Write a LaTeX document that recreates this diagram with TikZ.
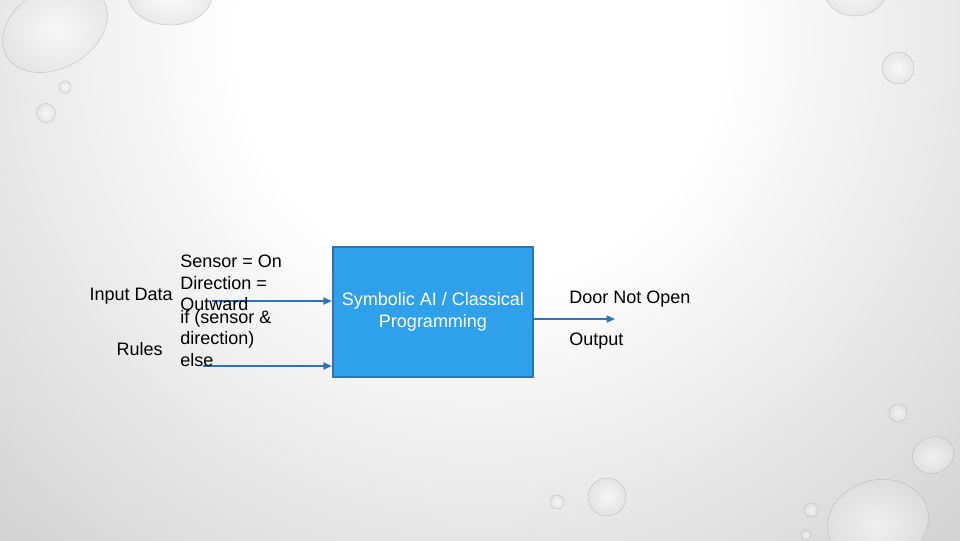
\documentclass[tikz,border=0pt]{standalone}
\usepackage{fontspec}
\setmainfont{Liberation Sans}
\usepackage{tikz}
\usetikzlibrary{arrows.meta,positioning}

\definecolor{boxblue}{HTML}{2FA1EB}
\definecolor{boxline}{HTML}{2F73B3}
\definecolor{arrowblue}{HTML}{2E75B6}
\pgfdeclareradialshading{slidebg}{\pgfpoint{0bp}{0bp}}{color(0bp)=(white); color(8.6bp)=(white); color(20bp)=(black!12); color(30.7bp)=(black!24); color(50bp)=(black!33)}

\tikzset{
	txt/.style={font=\fontsize{12.8}{15.2}\selectfont, inner sep=0pt, align=left},
	flow/.style={arrowblue, line width=1.1pt, -{Triangle[length=6pt,width=5pt]}},
	drop/.style={draw=black!30, line width=0.4pt, inner color=white, outer color=black!12, fill opacity=0.6, draw opacity=0.6},
}

\begin{document}
\begin{tikzpicture}[x=0.025cm, y=-0.025cm]
	\useasboundingbox (0,0) rectangle (960,540);
	
	%Hintergrund
	\begin{scope}
		\clip (0,0) rectangle (960,540);
		\shade[shading=slidebg] (480,40) circle (700);
		%Tropfen
		\shade[drop, rotate around={30:(55,28)}] (55,28) ellipse [x radius=56, y radius=40];
		\shade[drop] (170,-5) ellipse [x radius=42, y radius=30];
		\shade[drop] (65,87) circle (6);
		\shade[drop] (46,113) circle (9.5);
		\shade[drop] (855,-12) ellipse [x radius=32, y radius=28];
		\shade[drop] (898,68) circle (16);
		\shade[drop] (898,413) circle (9);
		\shade[drop, rotate around={20:(933,455)}] (933,455) ellipse [x radius=21, y radius=18];
		\shade[drop, rotate around={15:(878,522)}] (878,522) ellipse [x radius=51, y radius=42];
		\shade[drop] (811,510) circle (7);
		\shade[drop] (806,535) circle (5);
		\shade[drop] (557,502) circle (7);
		\shade[drop] (607,497) circle (19);
	\end{scope}
	
	%Block
	\node[txt, draw=boxline, line width=1.5pt, fill=boxblue, text=white, align=center,
		minimum width=5cm, minimum height=3.25cm] (prog) at (433,312) {Symbolic AI / Classical\\Programming};
	
	%Pfeile
	\coordinate (datain) at (212,301);
	\coordinate (rulein) at (203,366);
	\coordinate (outend) at (615,319);
	\draw[flow] (datain) -- (datain -| prog.west);
	\draw[flow] (rulein) -- (rulein -| prog.west);
	\draw[flow] (prog.east |- outend) -- (outend);
	
	%Texte (base = letzte Zeile)
	\node[txt, anchor=base west] (data) at (180,310.5) {Sensor = On\\Direction =\\Outward};
	\node[txt, anchor=base west] (rule) at (180,366) {if (sensor \&\\direction)\\else};
	\node[txt, anchor=base east] (datalbl) at (173,300) {Input Data};
	\node[txt, anchor=base east] (rulelbl) at (163,355) {Rules};
	\node[txt, anchor=base west] (outval) at (569,303) {Door Not Open};
	\node[txt, anchor=base west] (outlbl) at (569,345) {Output};

\end{tikzpicture}
\end{document}
